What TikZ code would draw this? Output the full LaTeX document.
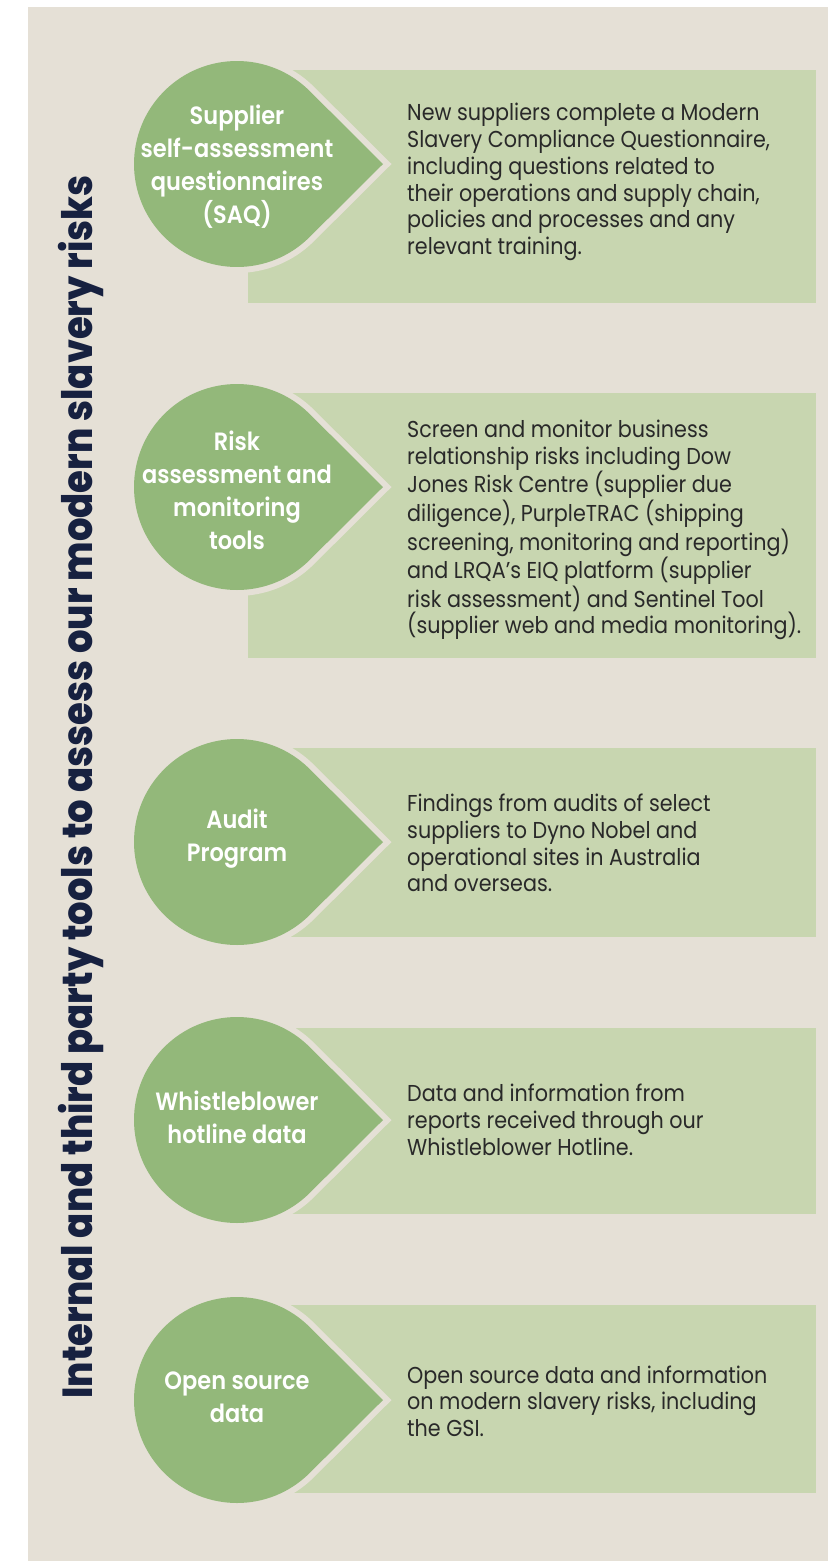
\documentclass[tikz,border=0pt]{standalone}
\usepackage{fontspec}
\setmainfont{Poppins}[FakeStretch=0.9]
\newfontfamily\dropfont{Poppins SemiBold}[FakeStretch=0.9]
\newfontfamily\titlefont{Poppins ExtraBold}[FakeStretch=0.88]
\usetikzlibrary{calc}
\definecolor{BackClr}{rgb}{0.898,0.878,0.839}
\definecolor{BoxClr}{rgb}{0.784,0.839,0.690}
\definecolor{DropClr}{rgb}{0.576,0.722,0.478}
\definecolor{TitleClr}{rgb}{0.090,0.130,0.250}
\definecolor{TextClr}{rgb}{0.160,0.160,0.160}

% Σχήμα σταγόνας: κύκλος με μύτη προς τα δεξιά.
\newcommand\dropshape[1]{($(#1)+(146,0)$) -- ($(#1)+(45.1:103)$) arc[start angle=45.1,end angle=314.9,radius=103] -- cycle}

\begin{document}
\begin{tikzpicture}[x=1pt,y=1pt,
  tool/.style={text=white,align=center,font=\dropfont\fontsize{25}{33}\selectfont},
  desc/.style={anchor=west,inner sep=0pt,align=left,text=TextClr,font=\fontsize{23}{26.7}\selectfont},
  gap/.style={draw=BackClr,line width=12pt,line join=miter}]
\useasboundingbox (0,0) rectangle (828,-1561);
\fill[white] (0,0) rectangle (828,-1561);
\fill[BackClr] (28,-7) rectangle (828,-1561);

% Κέντρα των κύκλων.
\coordinate (saq) at (237,-164);
\coordinate (risk) at (237,-487);
\coordinate (audit) at (237,-842);
\coordinate (hotline) at (237,-1120);
\coordinate (open) at (237,-1400);

% Πλαίσια περιγραφής.
\fill[BoxClr] (248,-70) rectangle (816,-303);
\fill[BoxClr] (248,-393) rectangle (816,-658);
\fill[BoxClr] (248,-748) rectangle (816,-937);
\fill[BoxClr] (248,-1028) rectangle (816,-1214);
\fill[BoxClr] (248,-1305) rectangle (816,-1493);

% Σταγόνες με περίγραμμα στο χρώμα του φόντου.
\draw[gap] \dropshape{saq};
\draw[gap] \dropshape{risk};
\draw[gap] \dropshape{audit};
\draw[gap] \dropshape{hotline};
\draw[gap] \dropshape{open};
\fill[DropClr] \dropshape{saq};
\fill[DropClr] \dropshape{risk};
\fill[DropClr] \dropshape{audit};
\fill[DropClr] \dropshape{hotline};
\fill[DropClr] \dropshape{open};

\node[tool] (saqname) at ($(saq)+(0,-3)$) {Supplier\\self-assessment\\questionnaires\\(SAQ)};
\node[tool] (riskname) at ($(risk)+(0,-3)$) {Risk\\assessment and\\monitoring\\tools};
\node[tool] (auditname) at ($(audit)+(0,3)$) {Audit\\Program};
\node[tool] (hotlinename) at ($(hotline)+(0,3)$) {Whistleblower\\hotline data};
\node[tool] (openname) at ($(open)+(0,3)$) {Open source\\data};

% Κείμενα.
\node[desc] (saqtext) at (407,-182) {New suppliers complete a Modern\\Slavery Compliance Questionnaire,\\including questions related to\\their operations and supply chain,\\policies and processes and any\\relevant training.};
\node[desc] (risktext) at (407,-530) {Screen and monitor business\\relationship risks including Dow\\Jones Risk Centre (supplier due\\diligence), PurpleTRAC (shipping\\screening, monitoring and reporting)\\and LRQA’s EIQ platform (supplier\\risk assessment) and Sentinel Tool\\(supplier web and media monitoring).};
\node[desc] (audittext) at (407,-843) {Findings from audits of select\\suppliers to Dyno Nobel and\\operational sites in Australia\\and overseas.};
\node[desc] (hotlinetext) at (407,-1120) {Data and information from\\reports received through our\\Whistleblower Hotline.};
\node[desc] (opentext) at (407,-1401) {Open source data and information\\on modern slavery risks, including\\the GSI.};

\node[rotate=90,anchor=base,text=TitleClr,font=\titlefont\fontsize{42}{44}\selectfont] (title) at (92,-787) {Internal and third party tools to assess our modern slavery risks};
\end{tikzpicture}
\end{document}
